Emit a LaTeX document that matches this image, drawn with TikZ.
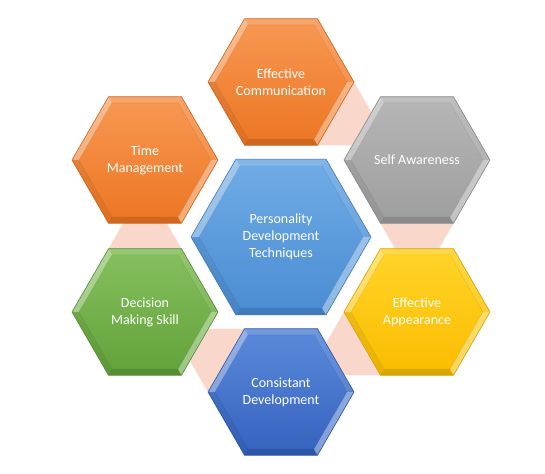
\documentclass[tikz,border=0pt]{standalone}
\usepackage{fontspec}
\setmainfont{Carlito}
\usetikzlibrary{calc}
\definecolor{orangeT}{RGB}{248,152,84}
\definecolor{orangeB}{RGB}{236,118,34}
\definecolor{grayT}{RGB}{182,182,182}
\definecolor{grayB}{RGB}{158,158,158}
\definecolor{goldT}{RGB}{255,212,40}
\definecolor{goldB}{RGB}{250,188,0}
\definecolor{blueT}{RGB}{92,138,218}
\definecolor{blueB}{RGB}{52,98,190}
\definecolor{greenT}{RGB}{134,192,94}
\definecolor{greenB}{RGB}{98,162,58}
\definecolor{lblueT}{RGB}{112,172,230}
\definecolor{lblueB}{RGB}{74,140,210}
\definecolor{peach}{RGB}{249,216,203}
\definecolor{peachL}{RGB}{252,228,218}
\tikzset{
  hextext/.style={text=white, align=center, inner sep=0pt,
    font=\fontsize{14}{17}\selectfont},
  hexline/.style={line width=0.6pt},
  connshape/.style={fill=peach, draw=peachL, line width=0.4pt}
}
% #1 name, #2 x, #3 y, #4 R, #5 top colour, #6 bottom colour, #7 text, #8 bevel
\newcommand\hexcell[8]{%
  \pgfmathsetmacro\hexri{#4-#8}%
  \foreach \k in {0,...,5}{%
    \coordinate (#1-\k) at ($(#2,#3)+(60*\k:#4)$);
    \coordinate (#1i-\k) at ($(#2,#3)+(60*\k:\hexri)$);
  }%
  \shade[top color=#5, bottom color=#6]
    (#1-0) -- (#1-1) -- (#1-2) -- (#1-3) -- (#1-4) -- (#1-5) -- cycle;
  \fill[white, opacity=0.38] (#1-0) -- (#1-1) -- (#1i-1) -- (#1i-0) -- cycle;
  \fill[black, opacity=0.12] (#1-1) -- (#1-2) -- (#1i-2) -- (#1i-1) -- cycle;
  \fill[black, opacity=0.06] (#1-2) -- (#1-3) -- (#1i-3) -- (#1i-2) -- cycle;
  \fill[white, opacity=0.35] (#1-3) -- (#1-4) -- (#1i-4) -- (#1i-3) -- cycle;
  \fill[white, opacity=0.14] (#1-4) -- (#1-5) -- (#1i-5) -- (#1i-4) -- cycle;
  \fill[white, opacity=0.10] (#1-5) -- (#1-0) -- (#1i-0) -- (#1i-5) -- cycle;
  \draw[#6!70!black, opacity=0.25, line width=0.4pt]
    (#1i-0) -- (#1i-1) -- (#1i-2) -- (#1i-3) -- (#1i-4) -- (#1i-5) -- cycle;
  \draw[hexline, #6!85!black]
    (#1-0) -- (#1-1) -- (#1-2) -- (#1-3) -- (#1-4) -- (#1-5) -- cycle;
  \node[hextext] (#1) at (#2,#3) {#7};
}
\begin{document}
\begin{tikzpicture}[x=1pt, y=-1pt]
\useasboundingbox (0,0) rectangle (545,473);
\fill[white] (0,0) rectangle (545,473);
% vertex coordinates first (drawn later), connectors behind
\foreach \nm/\cx/\cy in {ec/281/82, sa/417/160, ea/417/312, cd/281/392, dm/145/312, tm/145/160}{%
  \foreach \k in {0,...,5}{\coordinate (\nm-\k) at ($(\cx,\cy)+(60*\k:73)$);}
}
% connectors
\fill[connshape] (ec-0) -- (ec-1)
  -- (intersection of ec-1--ec-2 and sa-3--sa-4)
  -- (intersection of ec-5--ec-0 and sa-3--sa-4) -- cycle;
\fill[connshape] (sa-1) -- (sa-2)
  -- (intersection of sa-2--sa-3 and ea-4--ea-5)
  -- (intersection of sa-0--sa-1 and ea-4--ea-5) -- cycle;
\fill[connshape] (ea-2) -- (ea-3)
  -- (intersection of ea-3--ea-4 and cd-5--cd-0)
  -- (intersection of ea-1--ea-2 and cd-5--cd-0) -- cycle;
\fill[connshape] (cd-3) -- (cd-4)
  -- (intersection of cd-4--cd-5 and dm-0--dm-1)
  -- (intersection of cd-2--cd-3 and dm-0--dm-1) -- cycle;
\fill[connshape] (dm-4) -- (dm-5)
  -- (intersection of dm-5--dm-0 and tm-1--tm-2)
  -- (intersection of dm-3--dm-4 and tm-1--tm-2) -- cycle;
% hexagons
\hexcell{ec}{281}{82}{73}{orangeT}{orangeB}{Effective\\Communication}{7}
\hexcell{sa}{417}{160}{73}{grayT}{grayB}{Self Awareness}{7}
\hexcell{ea}{417}{312}{73}{goldT}{goldB}{Effective\\Appearance}{7}
\hexcell{cd}{281}{392}{73}{blueT}{blueB}{Consistant\\Development}{7}
\hexcell{dm}{145}{312}{73}{greenT}{greenB}{Decision\\Making Skill}{7}
\hexcell{tm}{145}{160}{73}{orangeT}{orangeB}{Time\\Management}{7}
\hexcell{pd}{281}{237}{90}{lblueT}{lblueB}{Personality\\Development\\Techniques}{8}
\end{tikzpicture}
\end{document}
